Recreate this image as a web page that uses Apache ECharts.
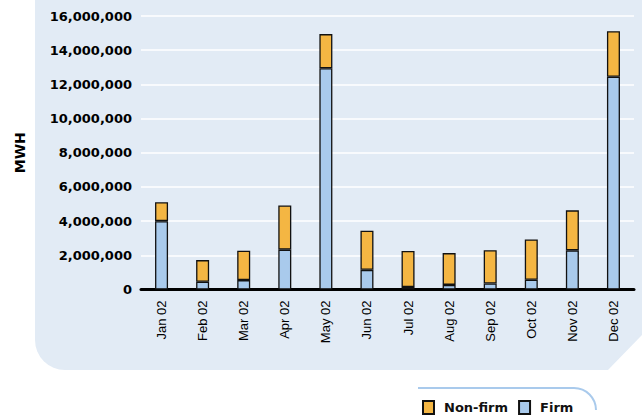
<!DOCTYPE html>
<html>
<head>
<meta charset="utf-8">
<script src="https://cdn.jsdelivr.net/npm/echarts@6/dist/echarts.min.js"></script>
<style>
  html, body { margin: 0; padding: 0; background: #fff; }
  #container_bar { width: 642px; height: 418px; }
</style>
</head>
<body>
<div id="container_bar"></div>
<script>
const months = ['Jan 02', 'Feb 02', 'Mar 02', 'Apr 02', 'May 02', 'Jun 02',
    'Jul 02', 'Aug 02', 'Sep 02', 'Oct 02', 'Nov 02', 'Dec 02'];
const firm = [4000000, 450000, 550000, 2330000, 12940000, 1150000,
    150000, 270000, 350000, 570000, 2290000, 12450000];
const nonFirm = [1100000, 1270000, 1720000, 2580000, 2000000, 2290000,
    2100000, 1860000, 1950000, 2360000, 2340000, 2660000];

function drawBarChart() {
    const myChart = echarts.init(document.getElementById('container_bar'), null, {
        renderer: 'svg'
    });
    const option = {
        animation: false,
        graphic: [{
            type: 'rect',
            z: -10,
            shape: { x: 35, y: -20, width: 607, height: 390, r: [0, 0, 0, 30] },
            style: { fill: '#E2EBF5' }
        }, {
            type: 'polygon',
            z: -9,
            shape: { points: [[607, 371], [643, 371], [643, 334]] },
            style: { fill: '#fff' }
        }, {
            type: 'line',
            z: -9,
            shape: { x1: 418, y1: 388, x2: 574, y2: 388 },
            style: { stroke: '#A9CAEC', lineWidth: 2 }
        }, {
            type: 'arc',
            z: -9,
            shape: { cx: 574, cy: 410, r: 22, startAngle: -Math.PI / 2, endAngle: 0 },
            style: { fill: null, stroke: '#A9CAEC', lineWidth: 2 }
        }],
        legend: {
            left: 417,
            top: 395,
            itemWidth: 11,
            itemHeight: 13,
            itemGap: 10,
            icon: 'rect',
            data: ['Non-firm', 'Firm'],
            textStyle: {
                fontFamily: 'DejaVu Sans',
                fontWeight: 'bold',
                fontSize: 13,
                color: '#111',
                padding: [0, 0, 0, 5]
            }
        },
        grid: {
            left: 141,
            right: 8,
            top: 16,
            bottom: 128.5
        },
        xAxis: {
            type: 'category',
            data: months,
            axisLine: { lineStyle: { color: '#000', width: 3 } },
            axisTick: { show: false },
            axisLabel: {
                rotate: 90,
                margin: 11,
                fontFamily: 'Liberation Sans',
                fontSize: 13,
                color: '#000'
            }
        },
        yAxis: {
            type: 'value',
            min: 0,
            max: 16000000,
            interval: 2000000,
            name: 'MWH',
            nameLocation: 'middle',
            nameRotate: 90,
            nameGap: 114,
            nameTextStyle: {
                fontFamily: 'DejaVu Sans',
                fontWeight: 'bold',
                fontSize: 14,
                color: '#000'
            },
            axisLine: { show: false },
            axisTick: { show: false },
            splitLine: { lineStyle: { color: '#fff', width: 1.5 } },
            axisLabel: {
                margin: 9,
                fontFamily: 'DejaVu Sans',
                fontWeight: 'bold',
                fontSize: 13,
                color: '#000',
                formatter: function (v) {
                    return v.toString().replace(/\B(?=(\d{3})+(?!\d))/g, ',');
                }
            }
        },
        series: [{
            name: 'Firm',
            type: 'bar',
            stack: 'mwh',
            barWidth: 13,
            itemStyle: { color: '#A9CAEC', borderColor: '#111', borderWidth: 1.3 },
            data: firm
        }, {
            name: 'Non-firm',
            type: 'bar',
            stack: 'mwh',
            barWidth: 13,
            itemStyle: { color: '#F4B643', borderColor: '#111', borderWidth: 1.3 },
            data: nonFirm
        }]
    };
    myChart.setOption(option);
}

drawBarChart();
</script>
</body>
</html>
